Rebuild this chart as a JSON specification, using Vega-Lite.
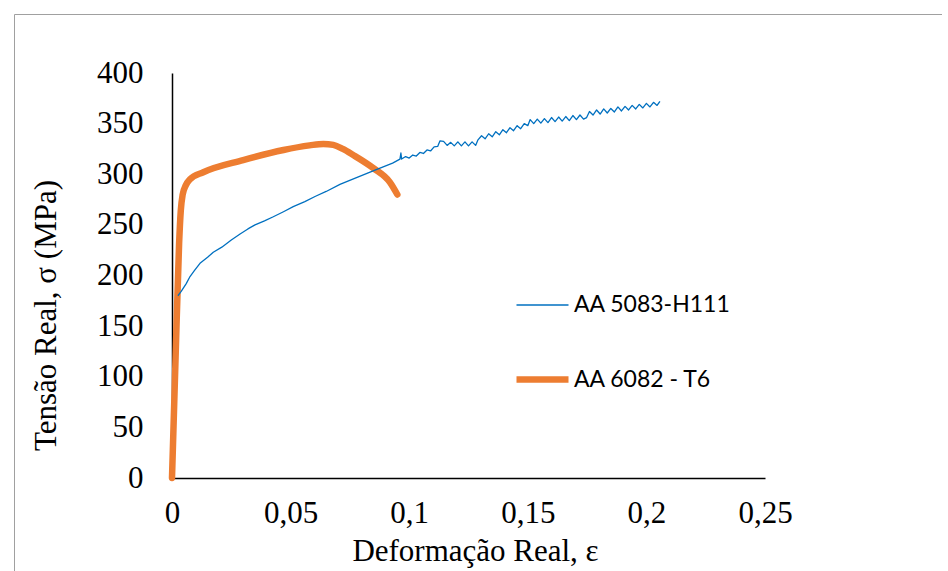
{
  "$schema": "https://vega.github.io/schema/vega-lite/v6.json",
  "width": 928,
  "height": 570,
  "autosize": "none",
  "padding": {"left": 14, "top": 14, "right": 0, "bottom": 0},
  "background": "white",
  "datasets": {
    "curves": [
      {"serie": "AA 6082 - T6", "e": 0, "s": 0},
      {"serie": "AA 6082 - T6", "e": 0.0015, "s": 118},
      {"serie": "AA 6082 - T6", "e": 0.003, "s": 232},
      {"serie": "AA 6082 - T6", "e": 0.0037, "s": 264},
      {"serie": "AA 6082 - T6", "e": 0.0045, "s": 280},
      {"serie": "AA 6082 - T6", "e": 0.0058, "s": 289},
      {"serie": "AA 6082 - T6", "e": 0.0076, "s": 295},
      {"serie": "AA 6082 - T6", "e": 0.0132, "s": 302},
      {"serie": "AA 6082 - T6", "e": 0.03, "s": 314},
      {"serie": "AA 6082 - T6", "e": 0.047, "s": 324},
      {"serie": "AA 6082 - T6", "e": 0.058, "s": 328.5},
      {"serie": "AA 6082 - T6", "e": 0.0638, "s": 330},
      {"serie": "AA 6082 - T6", "e": 0.068, "s": 329},
      {"serie": "AA 6082 - T6", "e": 0.072, "s": 325},
      {"serie": "AA 6082 - T6", "e": 0.0764, "s": 319},
      {"serie": "AA 6082 - T6", "e": 0.0849, "s": 306},
      {"serie": "AA 6082 - T6", "e": 0.0919, "s": 292},
      {"serie": "AA 6082 - T6", "e": 0.095, "s": 280},
      {"serie": "AA 5083-H111", "e": 0.0025, "s": 180},
      {"serie": "AA 5083-H111", "e": 0.0038, "s": 184},
      {"serie": "AA 5083-H111", "e": 0.006, "s": 192},
      {"serie": "AA 5083-H111", "e": 0.0076, "s": 199},
      {"serie": "AA 5083-H111", "e": 0.0095, "s": 205},
      {"serie": "AA 5083-H111", "e": 0.0118, "s": 212},
      {"serie": "AA 5083-H111", "e": 0.015, "s": 218},
      {"serie": "AA 5083-H111", "e": 0.0174, "s": 223},
      {"serie": "AA 5083-H111", "e": 0.021, "s": 228},
      {"serie": "AA 5083-H111", "e": 0.025, "s": 235},
      {"serie": "AA 5083-H111", "e": 0.0287, "s": 241},
      {"serie": "AA 5083-H111", "e": 0.032, "s": 246},
      {"serie": "AA 5083-H111", "e": 0.035, "s": 250},
      {"serie": "AA 5083-H111", "e": 0.039, "s": 254},
      {"serie": "AA 5083-H111", "e": 0.0427, "s": 258},
      {"serie": "AA 5083-H111", "e": 0.047, "s": 263},
      {"serie": "AA 5083-H111", "e": 0.0511, "s": 268},
      {"serie": "AA 5083-H111", "e": 0.056, "s": 273},
      {"serie": "AA 5083-H111", "e": 0.0603, "s": 278},
      {"serie": "AA 5083-H111", "e": 0.065, "s": 283},
      {"serie": "AA 5083-H111", "e": 0.0708, "s": 290},
      {"serie": "AA 5083-H111", "e": 0.077, "s": 296},
      {"serie": "AA 5083-H111", "e": 0.0835, "s": 302},
      {"serie": "AA 5083-H111", "e": 0.0877, "s": 306},
      {"serie": "AA 5083-H111", "e": 0.093, "s": 311},
      {"serie": "AA 5083-H111", "e": 0.0961, "s": 315},
      {"serie": "AA 5083-H111", "e": 0.0965, "s": 321},
      {"serie": "AA 5083-H111", "e": 0.0968, "s": 315},
      {"serie": "AA 5083-H111", "e": 0.0985, "s": 317.5},
      {"serie": "AA 5083-H111", "e": 0.1, "s": 316},
      {"serie": "AA 5083-H111", "e": 0.1015, "s": 319},
      {"serie": "AA 5083-H111", "e": 0.103, "s": 318},
      {"serie": "AA 5083-H111", "e": 0.1045, "s": 321.5},
      {"serie": "AA 5083-H111", "e": 0.106, "s": 320.5},
      {"serie": "AA 5083-H111", "e": 0.1075, "s": 324},
      {"serie": "AA 5083-H111", "e": 0.109, "s": 323},
      {"serie": "AA 5083-H111", "e": 0.1105, "s": 327},
      {"serie": "AA 5083-H111", "e": 0.112, "s": 327.5},
      {"serie": "AA 5083-H111", "e": 0.113, "s": 333},
      {"serie": "AA 5083-H111", "e": 0.1145, "s": 332.5},
      {"serie": "AA 5083-H111", "e": 0.116, "s": 328.5},
      {"serie": "AA 5083-H111", "e": 0.1175, "s": 331.5},
      {"serie": "AA 5083-H111", "e": 0.119, "s": 328},
      {"serie": "AA 5083-H111", "e": 0.1205, "s": 332},
      {"serie": "AA 5083-H111", "e": 0.122, "s": 328},
      {"serie": "AA 5083-H111", "e": 0.1235, "s": 332},
      {"serie": "AA 5083-H111", "e": 0.125, "s": 328},
      {"serie": "AA 5083-H111", "e": 0.1265, "s": 332},
      {"serie": "AA 5083-H111", "e": 0.128, "s": 328.5},
      {"serie": "AA 5083-H111", "e": 0.129, "s": 334},
      {"serie": "AA 5083-H111", "e": 0.1305, "s": 338},
      {"serie": "AA 5083-H111", "e": 0.132, "s": 335},
      {"serie": "AA 5083-H111", "e": 0.1335, "s": 340},
      {"serie": "AA 5083-H111", "e": 0.135, "s": 337},
      {"serie": "AA 5083-H111", "e": 0.1365, "s": 342},
      {"serie": "AA 5083-H111", "e": 0.138, "s": 339},
      {"serie": "AA 5083-H111", "e": 0.1395, "s": 344},
      {"serie": "AA 5083-H111", "e": 0.141, "s": 341},
      {"serie": "AA 5083-H111", "e": 0.1425, "s": 346},
      {"serie": "AA 5083-H111", "e": 0.144, "s": 343},
      {"serie": "AA 5083-H111", "e": 0.1455, "s": 348},
      {"serie": "AA 5083-H111", "e": 0.147, "s": 345},
      {"serie": "AA 5083-H111", "e": 0.1485, "s": 350},
      {"serie": "AA 5083-H111", "e": 0.15, "s": 348},
      {"serie": "AA 5083-H111", "e": 0.151, "s": 354},
      {"serie": "AA 5083-H111", "e": 0.1525, "s": 350},
      {"serie": "AA 5083-H111", "e": 0.154, "s": 354.5},
      {"serie": "AA 5083-H111", "e": 0.1555, "s": 350.5},
      {"serie": "AA 5083-H111", "e": 0.157, "s": 355},
      {"serie": "AA 5083-H111", "e": 0.1585, "s": 351},
      {"serie": "AA 5083-H111", "e": 0.16, "s": 356},
      {"serie": "AA 5083-H111", "e": 0.1615, "s": 352},
      {"serie": "AA 5083-H111", "e": 0.163, "s": 356.5},
      {"serie": "AA 5083-H111", "e": 0.1645, "s": 352.5},
      {"serie": "AA 5083-H111", "e": 0.166, "s": 357},
      {"serie": "AA 5083-H111", "e": 0.1675, "s": 353},
      {"serie": "AA 5083-H111", "e": 0.169, "s": 358},
      {"serie": "AA 5083-H111", "e": 0.1705, "s": 354},
      {"serie": "AA 5083-H111", "e": 0.172, "s": 358.5},
      {"serie": "AA 5083-H111", "e": 0.1735, "s": 354.5},
      {"serie": "AA 5083-H111", "e": 0.1748, "s": 356},
      {"serie": "AA 5083-H111", "e": 0.176, "s": 362},
      {"serie": "AA 5083-H111", "e": 0.1775, "s": 358.5},
      {"serie": "AA 5083-H111", "e": 0.179, "s": 363.5},
      {"serie": "AA 5083-H111", "e": 0.1805, "s": 359.5},
      {"serie": "AA 5083-H111", "e": 0.182, "s": 364.5},
      {"serie": "AA 5083-H111", "e": 0.1835, "s": 360.5},
      {"serie": "AA 5083-H111", "e": 0.185, "s": 365},
      {"serie": "AA 5083-H111", "e": 0.1865, "s": 361.5},
      {"serie": "AA 5083-H111", "e": 0.188, "s": 366.5},
      {"serie": "AA 5083-H111", "e": 0.1895, "s": 362.5},
      {"serie": "AA 5083-H111", "e": 0.191, "s": 367},
      {"serie": "AA 5083-H111", "e": 0.1925, "s": 363.5},
      {"serie": "AA 5083-H111", "e": 0.194, "s": 368},
      {"serie": "AA 5083-H111", "e": 0.1955, "s": 364.5},
      {"serie": "AA 5083-H111", "e": 0.197, "s": 369},
      {"serie": "AA 5083-H111", "e": 0.1985, "s": 365.5},
      {"serie": "AA 5083-H111", "e": 0.2, "s": 370},
      {"serie": "AA 5083-H111", "e": 0.2015, "s": 366.5},
      {"serie": "AA 5083-H111", "e": 0.203, "s": 371},
      {"serie": "AA 5083-H111", "e": 0.2045, "s": 368},
      {"serie": "AA 5083-H111", "e": 0.2057, "s": 372}
    ]
  },
  "data": {"name": "curves"},
  "encoding": {
    "x": {
      "field": "e", "type": "quantitative",
      "scale": {"domain": [0, 0.25], "range": [158, 751], "nice": false},
      "axis": {
        "title": "Deformação Real, ε", "offset": -106,
        "values": [0, 0.05, 0.1, 0.15, 0.2, 0.25],
        "labelExpr": "replace(toString(datum.value), '.', ',')",
        "labelPadding": 20, "labelFlush": false,
        "titleX": 461, "titleY": 82, "titleBaseline": "alphabetic", "titleAnchor": null, "titleAlign": "center"
      }
    },
    "y": {
      "field": "s", "type": "quantitative",
      "scale": {"domain": [0, 400], "range": [464, 59], "nice": false},
      "axis": {
        "title": "Tensão Real, σ (MPa)", "offset": -158,
        "values": [0, 50, 100, 150, 200, 250, 300, 350, 400],
        "labelPadding": 29, "labelFlush": false,
        "titleX": -117, "titleY": 301, "titleAngle": -90, "titleBaseline": "alphabetic", "titleAlign": "center", "titleAnchor": null
      }
    },
    "color": {
      "field": "serie", "type": "nominal",
      "scale": {"domain": ["AA 5083-H111", "AA 6082 - T6"], "range": ["#0070C0", "#ED7D31"]},
      "legend": {"title": null}
    },
    "strokeWidth": {
      "field": "serie", "type": "nominal",
      "scale": {"domain": ["AA 5083-H111", "AA 6082 - T6"], "range": [1.3, 6.5]},
      "legend": {"title": null}
    }
  },
  "layer": [
    {"transform": [{"filter": "datum.serie === 'AA 6082 - T6'"}], "mark": {"type": "line", "strokeCap": "round", "strokeJoin": "round", "interpolate": "monotone"}},
    {"transform": [{"filter": "datum.serie === 'AA 5083-H111'"}], "mark": {"type": "line", "strokeJoin": "round"}}
  ],
  "resolve": {"scale": {"color": "shared", "strokeWidth": "shared"}},
  "config": {
    "view": {"stroke": "#a0a0a0", "strokeWidth": 1},
    "axis": {"grid": false, "ticks": false, "domainColor": "black", "domainWidth": 1.5, "labelFont": "Liberation Serif", "labelFontSize": 31, "labelColor": "black", "titleFont": "Liberation Serif", "titleFontSize": 31, "titleFontWeight": "normal", "titleColor": "black"},
    "legend": {
      "orient": "none", "legendX": 499, "legendY": 264, "padding": 0,
      "symbolType": "stroke", "symbolSize": 2704, "labelFont": "Lato", "labelFontSize": 23, "labelColor": "black",
      "labelOffset": 2, "rowPadding": 33
    }
  }
}
